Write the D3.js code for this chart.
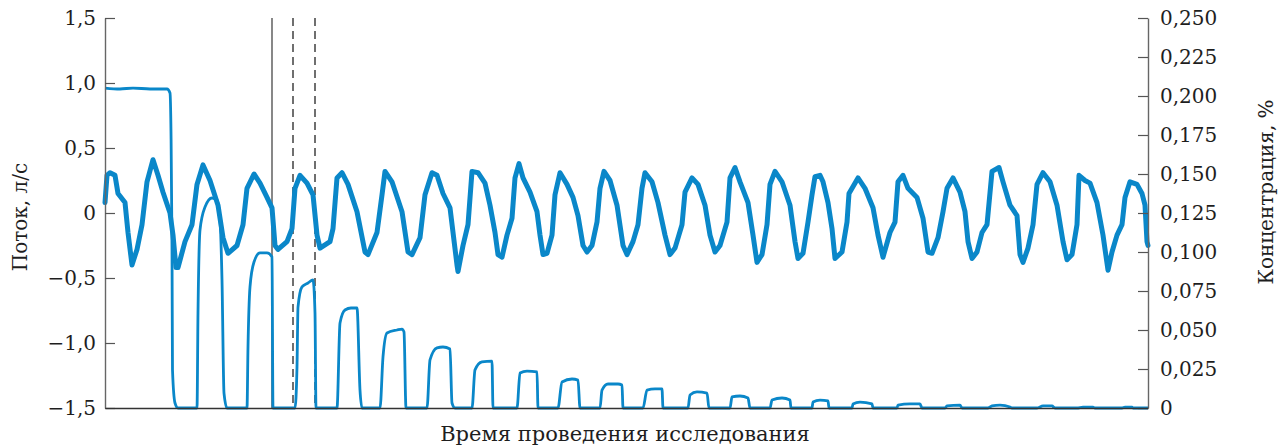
<!DOCTYPE html>
<html>
<head>
<meta charset="utf-8">
<script src="https://cdn.jsdelivr.net/npm/d3@7"></script>
<style>
  body { margin: 0; background: #fff; }
  #chart { width: 1282px; height: 448px; }
  text { font-family: "DejaVu Serif", serif; fill: #1e1e1e; }
</style>
</head>
<body>
<div id="chart"></div>
<script>
// поток, л/с (время в условных единицах)
const flowTime = [
  0, 2, 5, 10, 13, 20, 23, 27, 32, 37, 42, 48, 53, 58, 65,
  68, 71, 73, 80, 87, 92, 98, 105, 113, 118, 123, 132, 138, 142, 149, 155, 162, 167,
  170, 173, 182, 187, 190, 195, 202, 208, 212, 215, 225, 228, 232, 237, 243, 252, 260, 263, 272, 277, 280, 287, 297, 303, 307, 315, 320, 327, 332, 338, 345,
  352, 353, 358, 363, 367, 373, 380, 385, 390, 393, 397, 402, 407, 410, 414, 418, 425, 432, 435, 438, 442, 447, 450, 455, 462, 468, 473, 478, 482, 487, 492, 495, 499, 505, 512, 518, 522, 528, 533, 537, 540, 547, 553,
  560, 565, 570, 577, 580, 587, 593, 600, 605, 610, 615, 622, 625, 630, 635, 643, 648, 652, 657, 662, 665, 670, 677, 685, 690, 693, 698, 703, 707, 710, 715, 718, 723, 727, 730, 737, 742, 744, 753, 760, 768,
  773, 778, 785, 790, 793, 798, 803, 812, 818, 823, 827, 833, 838, 842, 848, 855, 860, 863, 867, 872, 877, 882, 887, 894, 898, 905, 912, 915, 918, 923, 928, 932, 938, 945, 952, 958, 962, 967, 972, 974, 980, 985, 992, 998, 1003, 1007, 1012, 1017, 1020, 1025, 1032, 1037, 1040, 1042, 1043
];
const flowValue = [
  0.08, 0.29, 0.31, 0.29, 0.15, 0.08, -0.15, -0.40, -0.28, -0.09, 0.24, 0.41, 0.29, 0.16, 0.00,
  -0.17, -0.42, -0.42, -0.22, -0.09, 0.22, 0.37, 0.25, 0.06, -0.19, -0.31, -0.25, -0.09, 0.19, 0.30, 0.23, 0.12, 0.04,
  -0.25, -0.28, -0.22, -0.12, 0.19, 0.29, 0.23, 0.14, -0.17, -0.27, -0.22, -0.12, 0.27, 0.31, 0.22, 0.01, -0.30, -0.32, -0.15, 0.14, 0.32, 0.24, 0.01, -0.30, -0.32, -0.19, 0.14, 0.31, 0.29, 0.15, 0.04,
  -0.40, -0.45, -0.25, -0.09, 0.32, 0.31, 0.23, 0.06, -0.15, -0.32, -0.34, -0.17, -0.04, 0.27, 0.38, 0.27, 0.16, 0.01, -0.17, -0.32, -0.31, -0.17, 0.14, 0.31, 0.22, 0.12, -0.02, -0.25, -0.30, -0.25, -0.07, 0.19, 0.32, 0.25, 0.06, -0.25, -0.32, -0.22, -0.09, 0.19, 0.31, 0.24, 0.08,
  -0.17, -0.32, -0.27, -0.09, 0.16, 0.27, 0.22, 0.06, -0.17, -0.30, -0.25, -0.07, 0.27, 0.35, 0.24, 0.08, -0.17, -0.38, -0.32, -0.09, 0.22, 0.32, 0.24, 0.06, -0.22, -0.35, -0.31, -0.07, 0.14, 0.28, 0.29, 0.24, 0.08, -0.12, -0.35, -0.30, -0.07, 0.15, 0.27, 0.19, 0.04,
  -0.17, -0.34, -0.15, -0.07, 0.24, 0.29, 0.19, 0.12, -0.04, -0.30, -0.31, -0.19, 0.01, 0.19, 0.27, 0.16, 0.01, -0.22, -0.35, -0.30, -0.15, -0.09, 0.32, 0.35, 0.24, 0.06, -0.02, -0.32, -0.38, -0.27, -0.09, 0.22, 0.31, 0.24, 0.06, -0.22, -0.36, -0.32, -0.09, 0.29, 0.25, 0.23, 0.08, -0.17, -0.44, -0.30, -0.17, -0.09, 0.12, 0.24, 0.22, 0.15, 0.06, -0.22, -0.25
];

// концентрация, %
const concTime = [
  0, 15, 28, 45, 62, 65, 66, 67, 67.5, 70, 73,
  92, 93, 95, 100, 107, 112, 115, 117, 119, 122,
  142, 143, 145, 149, 155, 162, 167, 168,
  190, 192, 193, 197, 203, 208, 210, 211,
  232, 235, 240, 246, 252, 255, 257,
  275, 278, 282, 292, 297, 299, 301,
  322, 325, 332, 338, 345, 347, 350,
  367, 370, 377, 387, 388,
  412, 415, 422, 432, 433,
  453, 457, 467, 473, 475,
  495, 497, 503, 513, 517, 518,
  538, 542, 550, 557, 558,
  583, 585, 592, 602, 604,
  625, 627, 635, 643, 645,
  665, 667, 677, 685, 686,
  707, 708, 715, 723, 724,
  747, 748, 755, 767, 768,
  792, 793, 805, 815, 817,
  840, 842, 855, 857,
  883, 887, 895, 905, 907,
  932, 938, 947, 950,
  972, 978, 988, 990,
  1017, 1020, 1027, 1028, 1043
];
const concValue = [
  0.2051, 0.2045, 0.2051, 0.2045, 0.2045, 0.2019, 0.1763, 0.1032, 0.0244, 0.0032, 0,
  0, 0.0609, 0.1141, 0.1288, 0.1346, 0.1333, 0.1205, 0.0821, 0.0096, 0,
  0, 0.0391, 0.0776, 0.0936, 0.0994, 0.0994, 0.0968, 0,
  0, 0.0263, 0.0647, 0.0776, 0.0801, 0.0821, 0.0609, 0,
  0, 0.0545, 0.0628, 0.0641, 0.0641, 0.0115, 0,
  0, 0.0327, 0.0481, 0.0500, 0.0506, 0.0487, 0,
  0, 0.0308, 0.0385, 0.0391, 0.0378, 0.0032, 0,
  0, 0.0244, 0.0295, 0.0301, 0,
  0, 0.0224, 0.0237, 0.0231, 0,
  0, 0.0167, 0.0186, 0.0179, 0,
  0, 0.0115, 0.0154, 0.0154, 0.0147, 0,
  0, 0.0115, 0.0122, 0.0122, 0,
  0, 0.0083, 0.0103, 0.0096, 0,
  0, 0.0071, 0.0077, 0.0064, 0,
  0, 0.0051, 0.0064, 0.0051, 0,
  0, 0.0038, 0.0051, 0.0045, 0,
  0, 0.0026, 0.0038, 0.0026, 0,
  0, 0.0019, 0.0026, 0.0026, 0,
  0, 0.0013, 0.0019, 0,
  0, 0.0013, 0.0019, 0.0006, 0,
  0, 0.0013, 0.0013, 0,
  0, 0.0006, 0.0006, 0,
  0, 0.0006, 0.0006, 0, 0
];

// вертикальные отметки (первая сплошная, остальные пунктир)
const markerTime = [167, 188, 210];

const timeDomain = [0, 1043];
const flowTicks = [-1.5, -1, -0.5, 0, 0.5, 1, 1.5];
const flowTickLabels = ["\u22121,5", "\u22121,0", "\u22120,5", "0", "0,5", "1,0", "1,5"];
const concTicks = [0, 0.025, 0.05, 0.075, 0.1, 0.125, 0.15, 0.175, 0.2, 0.225, 0.25];
const concTickLabels = ["0", "0,025", "0,050", "0,075", "0,100", "0,125", "0,150", "0,175", "0,200", "0,225", "0,250"];

class WashoutChart {
  constructor(el) {
    this.el = el;
    this.initChart();
    this.updateChart();
  }

  initChart() {
    const that = this;
    d3.select(`#${this.el} svg`).remove();

    const margin = { left: 105, right: 134, top: 18, bottom: 40 };
    const width = 1282;
    const height = 448;
    that.innerWidth = width - margin.left - margin.right;
    that.innerHeight = height - margin.top - margin.bottom;

    that.svg = d3
      .select(`#${this.el}`)
      .append("svg")
      .attr("width", width)
      .attr("height", height);

    that.mainGroup = that.svg
      .append("g")
      .attr("class", "mainGroup")
      .attr("transform", `translate(${margin.left},${margin.top})`);

    that.xScale = d3.scaleLinear().domain(timeDomain).range([0, that.innerWidth]);
    that.yFlow = d3.scaleLinear().domain([-1.5, 1.5]).range([that.innerHeight, 0]);
    that.yConc = d3.scaleLinear().domain([0, 0.25]).range([that.innerHeight, 0]);
  }

  updateChart() {
    const that = this;
    const g = that.mainGroup;
    const blue = "#0a87c9";

    const flowData = d3.zip(flowTime, flowValue);
    const concData = d3.zip(concTime, concValue);

    // отметки времени
    g.selectAll(".marker")
      .data(markerTime)
      .join("line")
      .attr("class", "marker")
      .attr("x1", (d) => that.xScale(d))
      .attr("x2", (d) => that.xScale(d))
      .attr("y1", 0)
      .attr("y2", that.innerHeight)
      .attr("stroke", (d, i) => (i === 0 ? "#555" : "#333"))
      .attr("stroke-width", 1.4)
      .attr("stroke-dasharray", (d, i) => (i === 0 ? null : "8,5"));

    const concLine = d3
      .line()
      .x((d) => that.xScale(d[0]))
      .y((d) => that.yConc(d[1]))
      .curve(d3.curveMonotoneX);

    const flowLine = d3
      .line()
      .x((d) => that.xScale(d[0]))
      .y((d) => that.yFlow(d[1]));

    g.append("path")
      .datum(concData)
      .attr("fill", "none")
      .attr("stroke", blue)
      .attr("stroke-width", 2.8)
      .attr("stroke-linejoin", "round")
      .attr("d", concLine);

    g.append("path")
      .datum(flowData)
      .attr("fill", "none")
      .attr("stroke", blue)
      .attr("stroke-width", 5)
      .attr("stroke-linejoin", "round")
      .attr("stroke-linecap", "round")
      .attr("d", flowLine);

    // оси
    const yAxisLeft = d3
      .axisLeft(that.yFlow)
      .tickValues(flowTicks)
      .tickFormat((d) => flowTickLabels[flowTicks.indexOf(d)])
      .tickSizeInner(-10)
      .tickSizeOuter(0)
      .tickPadding(9);

    const yAxisRight = d3
      .axisRight(that.yConc)
      .tickValues(concTicks)
      .tickFormat((d) => concTickLabels[concTicks.indexOf(d)])
      .tickSizeInner(-10)
      .tickSizeOuter(0)
      .tickPadding(12);

    const xAxis = d3.axisBottom(that.xScale).tickValues([]).tickSizeOuter(0);

    g.append("g").attr("class", "y-axis axis").call(yAxisLeft);
    g.append("g")
      .attr("class", "y2-axis axis")
      .attr("transform", `translate(${that.innerWidth},0)`)
      .call(yAxisRight);
    g.append("g")
      .attr("class", "x-axis axis")
      .attr("transform", `translate(0,${that.innerHeight})`)
      .call(xAxis);

    g.selectAll(".axis .domain").attr("stroke", "#666").attr("stroke-width", 1.4);
    g.select(".x-axis .domain").attr("stroke", "#333").attr("stroke-width", 1.6);
    g.selectAll(".axis .tick line").attr("stroke", "#555").attr("stroke-width", 1.2);
    g.selectAll(".axis text")
      .attr("font-family", '"DejaVu Serif", serif')
      .attr("font-size", 20)
      .attr("fill", "#1e1e1e");

    // подписи осей
    that.svg
      .append("text")
      .attr("transform", "translate(27,217) rotate(-90)")
      .attr("text-anchor", "middle")
      .attr("font-size", 20)
      .text("Поток, л/с");

    that.svg
      .append("text")
      .attr("transform", "translate(1273,192) rotate(-90)")
      .attr("text-anchor", "middle")
      .attr("font-size", 20)
      .text("Концентрация, %");

    that.svg
      .append("text")
      .attr("x", 625)
      .attr("y", 441)
      .attr("text-anchor", "middle")
      .attr("font-size", 21)
      .text("Время проведения исследования");
  }
}

new WashoutChart("chart");
</script>
</body>
</html>
